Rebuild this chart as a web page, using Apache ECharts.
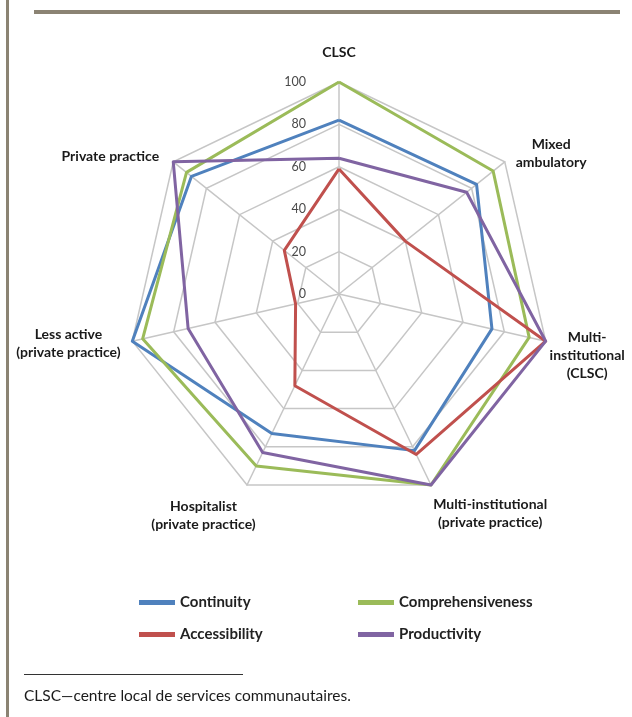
<!DOCTYPE html>
<html>
<head>
<meta charset="utf-8">
<title>Practice models radar</title>
<script src="https://cdn.jsdelivr.net/npm/echarts@6/dist/echarts.min.js"></script>
<style>
  html, body { margin: 0; padding: 0; background: #ffffff; }
  #chart { width: 632px; height: 717px; }
</style>
</head>
<body>
<div id="chart"></div>
<script>
// Practice model categories, listed clockwise from the top
const categories = [
  'CLSC',
  'Mixed\nambulatory',
  'Multi-\ninstitutional\n(CLSC)',
  'Multi-institutional\n(private practice)',
  'Hospitalist\n(private practice)',
  'Less active\n(private practice)',
  'Private practice'
];

// Scores (0-100) per practice model, same order as categories
const continuity        = [82, 83, 74, 82, 73, 100, 89];
const comprehensiveness = [100, 93, 92, 100, 90, 95, 92];
const accessibility     = [59, 40, 100, 84, 48, 21, 33];
const productivity      = [64, 77, 100, 100, 83, 73, 100];

const seriesNames = ['Continuity', 'Comprehensiveness', 'Accessibility', 'Productivity'];
const seriesColors = ['#4f81bd', '#9bbb59', '#c0504d', '#8064a2'];
const seriesValues = [continuity, comprehensiveness, accessibility, productivity];

// Scale ticks shown along the top axis
const tickLabels = ['0', '20', '40', '60', '80', '100'];

const footnote = 'CLSC\u2014centre local de services communautaires.';

// Axis-name placement, per category order: distance from the outer ring and
// the blank space set above the name (which pushes the name block downward).
const nameGaps   = [21, 14, 4, 5, -20, 12, 18];
const nameDrops  = [0, 0, 26, 48, 96, 0, 12];

const FONT = 'Lato, "Open Sans", sans-serif';
const frameColor = '#8b8373';
const gridColor = '#c6c6c6';

// ECharts lays radar indicators out counter-clockwise; keep the first one on top
// and reverse the rest so the categories run clockwise.
const order = [0].concat(categories.map((_, i) => i).slice(1).reverse());
const reorder = (arr) => order.map((i) => arr[i]);

const chart = echarts.init(document.getElementById('chart'), null, { renderer: 'canvas' });

// one spacer style per distinct drop height
const nameRich = {
  n: { fontFamily: FONT, fontWeight: 'bold', fontSize: 14, color: '#1a1a1a', lineHeight: 18, align: 'center' }
};
nameDrops.forEach((h) => { if (h > 0) nameRich['sp' + h] = { fontSize: 2, lineHeight: h }; });

const option = {
  backgroundColor: '#ffffff',
  animation: false,
  color: seriesColors,
  radar: {
    center: [339, 294],
    radius: 212,
    startAngle: 90,
    splitNumber: 5,
    shape: 'polygon',
    nameGap: 13,
    indicator: reorder(categories.map((c, i) => i)).map((ci, i) => ({
      name: categories[ci],
      min: 0,
      max: 100,
      nameGap: nameGaps[ci],
      axisLabel: i === 0
        ? { show: true, margin: 33, fontFamily: FONT, fontSize: 12.5, color: '#4a4a4a',
            formatter: (v) => tickLabels[Math.round(v / 20)] }
        : { show: false }
    })),
    axisName: {
      formatter: function (name) {
        const drop = nameDrops[categories.indexOf(name)];
        const body = name.split('\n').map((l) => '{n|' + l + '}').join('\n');
        return drop > 0 ? '{sp' + drop + '| }\n' + body : body;
      },
      rich: nameRich
    },
    axisLabel: { show: false },
    axisTick: { show: false },
    axisLine: { lineStyle: { color: gridColor, width: 1.5 } },
    splitLine: { lineStyle: { color: gridColor, width: 1.5 } },
    splitArea: { show: false }
  },
  legend: [
    {
      data: ['Continuity', 'Accessibility'],
      orient: 'vertical',
      left: 134, top: 590,
      itemWidth: 36, itemHeight: 5, itemGap: 17, itemTextGap: 9, icon: 'rect',
      textStyle: { fontFamily: FONT, fontWeight: 'bold', fontSize: 15, color: '#222' }
    },
    {
      data: ['Comprehensiveness', 'Productivity'],
      orient: 'vertical',
      left: 353, top: 590,
      itemWidth: 36, itemHeight: 5, itemGap: 17, itemTextGap: 9, icon: 'rect',
      textStyle: { fontFamily: FONT, fontWeight: 'bold', fontSize: 15, color: '#222' }
    }
  ],
  series: [{
    type: 'radar',
    symbol: 'none',
    lineStyle: { width: 3 },
    data: seriesNames.map((n, i) => ({
      name: n,
      value: reorder(seriesValues[i]),
      lineStyle: { color: seriesColors[i], width: 3 },
      itemStyle: { color: seriesColors[i] }
    }))
  }],
  graphic: [
    // page frame: left rule and top rule
    { type: 'rect', left: 6, top: 0, shape: { width: 3, height: 717 }, style: { fill: frameColor }, silent: true },
    { type: 'rect', left: 34, top: 10, shape: { width: 586, height: 4 }, style: { fill: frameColor }, silent: true },
    // footnote separator and text
    { type: 'line', shape: { x1: 24, y1: 674.5, x2: 243, y2: 674.5 }, style: { stroke: '#333', lineWidth: 1 }, silent: true },
    { type: 'text', left: 24, top: 688, style: { text: footnote, fontFamily: FONT, fontSize: 15.5, fill: '#1a1a1a' }, silent: true }
  ]
};

chart.setOption(option);
</script>
</body>
</html>
